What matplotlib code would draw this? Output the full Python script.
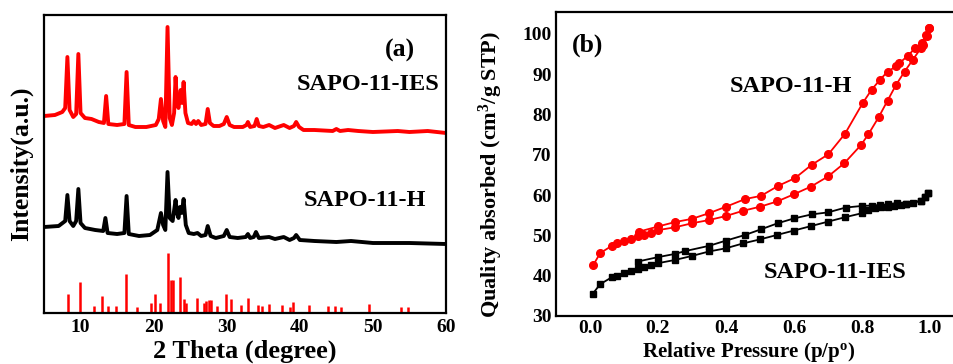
import matplotlib
matplotlib.use('Agg')
import matplotlib.pyplot as plt
from matplotlib.ticker import FormatStrFormatter

plt.rcParams['font.family'] = ['Liberation Serif', 'DejaVu Serif']
plt.rcParams['font.weight'] = 'bold'
plt.rcParams['mathtext.fontset'] = 'custom'
plt.rcParams['mathtext.rm'] = 'Liberation Serif:bold'
plt.rcParams['mathtext.it'] = 'Liberation Serif:bold'
plt.rcParams['mathtext.bf'] = 'Liberation Serif:bold'

# XRD patterns (2 theta, intensity in arbitrary units)
ies_theta = [5.0, 6.5, 7.5, 7.9, 8.2, 8.5, 9.0, 9.4, 9.7, 10.0, 10.6, 11.5, 12.5, 13.2, 13.5, 13.8,
             15.0, 16.0, 16.3, 16.6, 17.5, 19.0, 20.3, 20.7, 21.0, 21.3, 21.6, 21.9, 22.2, 22.5,
             22.8, 23.0, 23.2, 23.4, 23.7, 23.9, 24.1, 24.35, 24.7, 25.2, 25.5, 25.8, 26.1, 26.5,
             27.1, 27.4, 27.7, 28.2, 29.0, 29.6, 30.0, 30.4, 31.0, 32.2, 32.7, 32.9, 33.2, 33.8,
             34.1, 34.4, 35.0, 35.8, 36.6, 37.8, 38.6, 39.2, 39.5, 39.9, 40.5, 42.0, 44.5, 45.0,
             45.5, 46.6, 48.0, 50.0, 53.4, 55.0, 57.5, 60.0]
ies_int = [197, 198, 201, 205, 256, 203, 196, 199, 259, 200, 195, 194, 191, 190, 217, 189,
           188, 189, 241, 188, 186, 186, 188, 194, 214, 192, 186, 286, 195, 188,
           200, 236, 210, 205, 223, 210, 231, 200, 190, 189, 192, 189, 192, 188,
           189, 204, 190, 187, 187, 189, 196, 188, 186, 186, 188, 191, 186, 187,
           194, 187, 186, 188, 185, 188, 185, 187, 191, 186, 183, 183, 182, 184,
           182, 183, 182, 181, 182, 181, 182, 180]

h_theta = [5.0, 7.0, 7.9, 8.2, 8.5, 9.0, 9.4, 9.7, 10.0, 10.6, 12.0, 13.1, 13.4, 13.7, 15.0, 16.0,
           16.3, 16.6, 18.0, 19.5, 20.5, 21.0, 21.3, 21.6, 21.9, 22.2, 22.6, 23.0, 23.2, 23.4,
           23.6, 23.85, 24.1, 24.4, 24.8, 25.5, 26.0, 26.5, 27.1, 27.4, 27.8, 28.5, 29.6, 30.0,
           30.4, 31.5, 32.6, 32.9, 33.2, 33.7, 34.0, 34.4, 35.8, 36.6, 37.8, 38.6, 39.2, 39.5,
           40.0, 42.0, 45.0, 47.0, 50.0, 55.0, 60.0]
h_int = [86, 87, 92, 118, 92, 87, 92, 124, 90, 85, 83, 82, 95, 80, 79, 80,
         117, 79, 77, 78, 83, 100, 88, 83, 141, 95, 92, 113, 100, 95,
         106, 100, 114, 88, 80, 79, 80, 77, 78, 87, 77, 75, 77, 83,
         76, 75, 76, 79, 75, 76, 81, 75, 76, 74, 76, 73, 75, 78,
         73, 72, 71, 72, 70, 70, 69]

# reference stick pattern
ref_theta = [8.25, 9.95, 11.8, 12.9, 13.7, 14.8, 16.2, 17.7, 19.65, 20.15, 20.9, 22.0, 22.35, 22.6,
             23.6, 24.15, 24.4, 25.9, 26.9, 27.2, 27.55, 27.9, 28.7, 29.9, 30.6, 32.0, 32.9, 34.3,
             34.8, 35.8, 37.5, 38.6, 39.0, 41.2, 43.8, 44.85, 45.7, 49.4, 53.9, 54.8]
ref_int = [19, 31, 7, 17, 7, 7, 39, 6, 10, 19, 10, 60, 33, 33,
           36, 14, 10, 15, 10, 12, 13, 13, 7, 19, 14, 8, 15, 8,
           7, 9, 8, 6, 11, 8, 7, 7, 6, 9, 6, 6]

# N2 isotherms: SAPO-11-H
h_ads_p = [0.01, 0.03, 0.064, 0.078, 0.1, 0.12, 0.14, 0.16, 0.18, 0.2, 0.25, 0.3, 0.35, 0.4, 0.45,
           0.5, 0.55, 0.6, 0.65, 0.7, 0.748, 0.797, 0.819, 0.849, 0.875, 0.9, 0.925, 0.949, 0.973,
           0.98, 0.99, 0.997]
h_ads_v = [42.7, 45.6, 47.4, 48.0, 48.7, 49.1, 49.9, 50.1, 50.7, 51.3, 52.0, 53.0, 53.8, 54.8, 56.1,
           57.1, 58.4, 60.2, 62.1, 64.6, 67.9, 72.4, 75.1, 79.3, 83.4, 87.3, 90.6, 93.5, 96.4,
           97.2, 99.5, 101.4]
h_des_p = [0.997, 0.988, 0.975, 0.956, 0.934, 0.91, 0.9, 0.875, 0.853, 0.828, 0.802, 0.75, 0.701,
           0.652, 0.603, 0.554, 0.503, 0.456, 0.4, 0.35, 0.3, 0.25, 0.2, 0.143]
h_des_v = [101.4, 99.7, 97.6, 96.4, 94.5, 92.7, 91.9, 90.6, 88.6, 86.1, 82.8, 75.2, 70.1,
           67.5, 64.2, 62.3, 59.8, 59.0, 57.1, 55.5, 54.1, 53.3, 52.2, 50.9]

# N2 isotherms: SAPO-11-IES
ies_ads_p = [0.008, 0.03, 0.064, 0.078, 0.1, 0.12, 0.14, 0.16, 0.18, 0.2, 0.25, 0.3, 0.35, 0.4,
             0.45, 0.5, 0.55, 0.6, 0.65, 0.7, 0.75, 0.8, 0.817, 0.837, 0.857, 0.875, 0.895,
             0.914, 0.93, 0.95, 0.973, 0.985, 0.995]
ies_ads_v = [35.5, 37.9, 39.6, 39.9, 40.7, 41.2, 41.6, 42.1, 42.7, 43.1, 43.9, 44.9, 46.0, 46.8,
             48.0, 49.0, 50.1, 51.2, 52.3, 53.4, 54.5, 55.5, 56.3, 56.7, 57.0, 57.1, 57.3,
             57.5, 57.7, 58.0, 58.6, 59.6, 60.6]
ies_des_p = [0.995, 0.985, 0.973, 0.93, 0.902, 0.877, 0.853, 0.828, 0.8, 0.752, 0.7, 0.652, 0.6,
             0.552, 0.503, 0.456, 0.4, 0.35, 0.28, 0.25, 0.2, 0.14]
ies_des_v = [60.6, 59.6, 58.6, 57.8, 58.0, 57.7, 57.5, 57.4, 57.3, 56.9, 55.7, 55.2, 54.2,
             53.0, 51.5, 50.1, 48.7, 47.4, 46.1, 45.4, 44.6, 43.5]

fig = plt.figure(figsize=(9.54, 3.64), dpi=100)
W, H = 954.0, 364.0


def label_at(x, y, s, size=17.5):
    # place text by pixel position measured from the top-left corner
    fig.text(x / W, 1 - y / H, s, fontsize=size, fontweight='bold', ha='center', va='center')


# (a) XRD
ax1 = fig.add_axes([44 / W, (H - 313) / H, 402 / W, 298 / H])
ax1.plot(ies_theta, ies_int, color='#ff0000', lw=2.8)
ax1.plot(h_theta, h_int, color='black', lw=2.8)
ax1.vlines(ref_theta, 0, ref_int, color='#ff0000', lw=1.8)
ax1.set_xlim(5, 60)
ax1.set_ylim(0, 298)
ax1.set_xticks([10, 20, 30, 40, 50, 60])
ax1.set_yticks([])
ax1.tick_params(axis='x', length=0, labelsize=14, pad=4)
ax1.set_xlabel('2 Theta (degree)', fontsize=19, fontweight='bold', labelpad=3)
ax1.set_ylabel('Intensity(a.u.)', fontsize=18.5, fontweight='bold', labelpad=8)
for s in ax1.spines.values():
    s.set_linewidth(1.6)

label_at(400, 50, '(a)', 18.5)
label_at(368, 85, 'SAPO-11-IES')
label_at(365, 200, 'SAPO-11-H')

# (b) N2 adsorption-desorption
ax2 = fig.add_axes([556 / W, (H - 316) / H, 408 / W, 304 / H])
ax2.plot(h_ads_p, h_ads_v, color='#ff0000', lw=1.3, marker='o', ms=5.5)
ax2.plot(h_des_p, h_des_v, color='#ff0000', lw=1.3, marker='o', ms=5.5)
ax2.plot(ies_ads_p, ies_ads_v, color='black', lw=1.3, marker='s', ms=4.8)
ax2.plot(ies_des_p, ies_des_v, color='black', lw=1.3, marker='s', ms=4.8)
ax2.set_xlim(-0.1, 1.1)
ax2.set_ylim(30, 105.4)
ax2.set_xticks([0.0, 0.2, 0.4, 0.6, 0.8, 1.0])
ax2.set_yticks([30, 40, 50, 60, 70, 80, 90, 100])
ax2.xaxis.set_major_formatter(FormatStrFormatter('%.1f'))
ax2.tick_params(length=0, labelsize=14, pad=3)
ax2.set_xlabel(r'Relative Pressure (p/p$^{\mathrm{o}}$)', fontsize=15, fontweight='bold')
ax2.xaxis.set_label_coords((749 - 556) / 408, -0.078)
ax2.set_ylabel(r'Quality absorbed (cm$^{\mathrm{3}}$/g STP)', fontsize=16, fontweight='bold')
ax2.yaxis.set_label_coords((505 - 556) / 408, (316 - 174) / 304)
for s in ax2.spines.values():
    s.set_linewidth(1.6)

label_at(588, 45, '(b)', 18.5)
label_at(791, 87, 'SAPO-11-H')
label_at(835, 272, 'SAPO-11-IES')

fig.savefig('out.png', dpi=100)
